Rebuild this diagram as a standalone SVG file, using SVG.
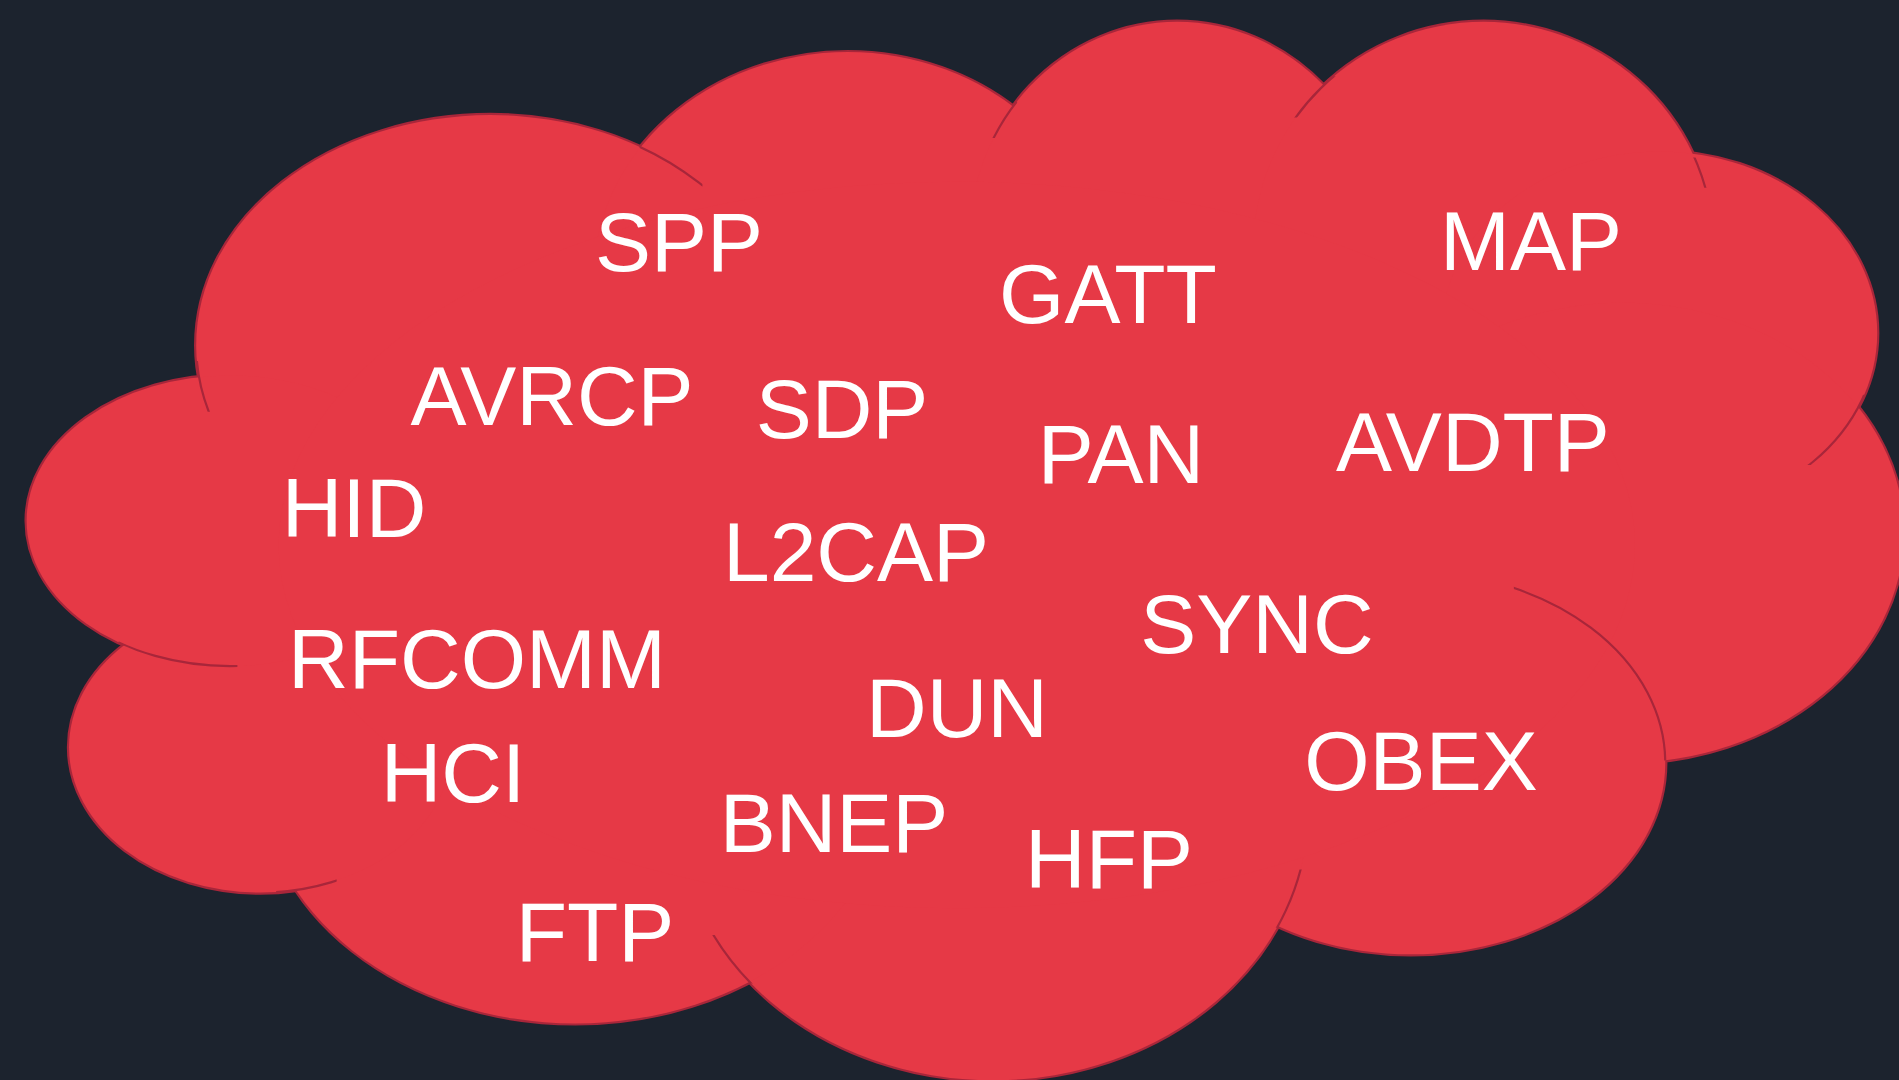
<svg xmlns="http://www.w3.org/2000/svg" width="1899" height="1080" viewBox="0 0 1899 1080">
  <style>
    .bg { fill: #1c232e; }
    .outline ellipse { fill: #e63946; stroke: #a8263a; stroke-width: 3.6; }
    .fillonly ellipse { fill: #e63946; stroke: none; }
    .inner ellipse { fill: none; stroke: #a8263a; stroke-width: 1.8; }
    .word { font-family: "Liberation Sans", Arial, sans-serif; font-size: 84px; fill: #ffffff; text-anchor: middle; }
  </style>
  <defs>
    <clipPath id="ca" clipPathUnits="userSpaceOnUse"><rect x="155" y="298" width="25" height="42"/></clipPath>
    <clipPath id="cb" clipPathUnits="userSpaceOnUse"><rect x="528" y="118" width="52" height="36"/></clipPath>
    <clipPath id="cc" clipPathUnits="userSpaceOnUse"><rect x="818" y="84" width="22" height="30"/></clipPath>
    <clipPath id="cd" clipPathUnits="userSpaceOnUse"><rect x="1066" y="63" width="38" height="34"/></clipPath>
    <clipPath id="ce" clipPathUnits="userSpaceOnUse"><rect x="1395" y="130" width="25" height="25"/></clipPath>
    <clipPath id="cf" clipPathUnits="userSpaceOnUse"><rect x="1478" y="326" width="65" height="58"/></clipPath>
    <clipPath id="cg" clipPathUnits="userSpaceOnUse"><rect x="1250" y="478" width="130" height="150"/></clipPath>
    <clipPath id="ch" clipPathUnits="userSpaceOnUse"><rect x="1045" y="718" width="35" height="48"/></clipPath>
    <clipPath id="ci" clipPathUnits="userSpaceOnUse"><rect x="588" y="772" width="35" height="40"/></clipPath>
    <clipPath id="cj" clipPathUnits="userSpaceOnUse"><rect x="228" y="718" width="50" height="20"/></clipPath>
    <clipPath id="ck" clipPathUnits="userSpaceOnUse"><rect x="98" y="525" width="98" height="28"/></clipPath>
  </defs>
  <rect class="bg" x="0" y="0" width="1899" height="1080"/>
  <g id="cloud" transform="scale(1.2111)">
    <g class="outline">
      <ellipse cx="405" cy="285" rx="243" ry="190"/>
      <ellipse cx="700" cy="230" rx="210" ry="187"/>
      <ellipse cx="972" cy="200" rx="172" ry="182"/>
      <ellipse cx="1225" cy="205" rx="190" ry="187"/>
      <ellipse cx="1370" cy="275" rx="180" ry="150"/>
      <ellipse cx="1340" cy="440" rx="232" ry="190"/>
      <ellipse cx="1165" cy="630" rx="210" ry="158"/>
      <ellipse cx="820" cy="670" rx="260" ry="222"/>
      <ellipse cx="475" cy="640" rx="260" ry="205"/>
      <ellipse cx="215" cy="617" rx="158" ry="120"/>
      <ellipse cx="190" cy="430" rx="168" ry="120"/>
    </g>
    <g class="fillonly">
      <ellipse cx="405" cy="285" rx="243" ry="190"/>
      <ellipse cx="700" cy="230" rx="210" ry="187"/>
      <ellipse cx="972" cy="200" rx="172" ry="182"/>
      <ellipse cx="1225" cy="205" rx="190" ry="187"/>
      <ellipse cx="1370" cy="275" rx="180" ry="150"/>
      <ellipse cx="1340" cy="440" rx="232" ry="190"/>
      <ellipse cx="1165" cy="630" rx="210" ry="158"/>
      <ellipse cx="820" cy="670" rx="260" ry="222"/>
      <ellipse cx="475" cy="640" rx="260" ry="205"/>
      <ellipse cx="215" cy="617" rx="158" ry="120"/>
      <ellipse cx="190" cy="430" rx="168" ry="120"/>
      <ellipse cx="790" cy="450" rx="560" ry="300"/>
    </g>
    <g class="inner">
      <ellipse cx="405" cy="285" rx="243" ry="190" clip-path="url(#ca)"/>
      <ellipse cx="405" cy="285" rx="243" ry="190" clip-path="url(#cb)"/>
      <ellipse cx="972" cy="200" rx="172" ry="182" clip-path="url(#cc)"/>
      <ellipse cx="1225" cy="205" rx="190" ry="187" clip-path="url(#cd)"/>
      <ellipse cx="1225" cy="205" rx="190" ry="187" clip-path="url(#ce)"/>
      <ellipse cx="1370" cy="275" rx="180" ry="150" clip-path="url(#cf)"/>
      <ellipse cx="1165" cy="630" rx="210" ry="158" clip-path="url(#cg)"/>
      <ellipse cx="820" cy="670" rx="260" ry="222" clip-path="url(#ch)"/>
      <ellipse cx="820" cy="670" rx="260" ry="222" clip-path="url(#ci)"/>
      <ellipse cx="215" cy="617" rx="158" ry="120" clip-path="url(#cj)"/>
      <ellipse cx="190" cy="430" rx="168" ry="120" clip-path="url(#ck)"/>
    </g>
  </g>
  <g id="words">
    <text class="word" x="679" y="271">SPP</text>
    <text class="word" x="1108" y="323">GATT</text>
    <text class="word" x="1531" y="270">MAP</text>
    <text class="word" x="552" y="425">AVRCP</text>
    <text class="word" x="842" y="438">SDP</text>
    <text class="word" x="354" y="537">HID</text>
    <text class="word" x="1121" y="483">PAN</text>
    <text class="word" x="1473" y="471">AVDTP</text>
    <text class="word" x="856" y="581">L2CAP</text>
    <text class="word" x="477" y="688">RFCOMM</text>
    <text class="word" x="453" y="802">HCI</text>
    <text class="word" x="957" y="737">DUN</text>
    <text class="word" x="834" y="852">BNEP</text>
    <text class="word" x="595" y="961">FTP</text>
    <text class="word" x="1257" y="653">SYNC</text>
    <text class="word" x="1421" y="790">OBEX</text>
    <text class="word" x="1109" y="888">HFP</text>
  </g>
</svg>
